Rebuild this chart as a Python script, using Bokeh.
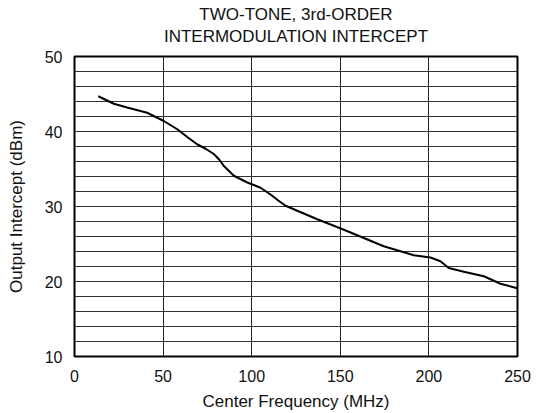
from bokeh.plotting import figure
from bokeh.models import Range1d, FixedTicker, Title
from bokeh.embed import file_html
from bokeh.resources import INLINE

freq_mhz = [13.4, 22.2, 29.7, 41.0, 50.4, 58.0, 64.0, 69.2, 74.0, 78.6, 81.5, 84.3, 89.9, 97.5, 105.0,
            110.6, 115.0, 119.1, 137.0, 151.0, 174.5, 191.5, 200.9, 206.5, 211.2, 219.7,
            231.0, 240.4, 249.8]
intercept_dbm = [44.7, 43.7, 43.2, 42.5, 41.4, 40.3, 39.2, 38.3, 37.7, 37.0, 36.3, 35.4, 34.1, 33.2, 32.5,
                 31.6, 30.8, 30.1, 28.3, 27.0, 24.7, 23.5, 23.2, 22.7, 21.8, 21.3,
                 20.7, 19.7, 19.1]
x_ticks = [0, 50, 100, 150, 200, 250]
y_ticks = [10, 20, 30, 40, 50]
y_grid = list(range(10, 52, 2))

FONT = "Liberation Sans"

p = figure(width=537, height=413, output_backend="svg", toolbar_location=None,
           x_range=Range1d(0, 250), y_range=Range1d(10, 50),
           min_border_left=74, min_border_right=20, min_border_top=56, min_border_bottom=57)

p.title.text = "TWO-TONE, 3rd-ORDER"
p.title.align = "center"
p.title.vertical_align = "bottom"
p.title.text_font = FONT
p.title.text_font_size = "17px"
p.title.text_font_style = "normal"
p.title.text_color = "#111111"
p.title.offset = 0
p.title.standoff = -11.5

t2 = Title(text="INTERMODULATION INTERCEPT", align="center", vertical_align="top",
           text_font=FONT, text_font_size="17px", text_font_style="normal",
           text_color="#111111", standoff=16.5)
p.add_layout(t2, "above")

p.outline_line_color = "black"
p.outline_line_width = 2
p.background_fill_color = "white"
p.border_fill_color = "white"

p.xaxis.ticker = FixedTicker(ticks=x_ticks)
p.yaxis.ticker = FixedTicker(ticks=y_ticks)
p.xgrid.ticker = FixedTicker(ticks=x_ticks)
p.ygrid.ticker = FixedTicker(ticks=y_grid)
p.xgrid.grid_line_color = "#222222"
p.ygrid.grid_line_color = "#333333"
p.xgrid.grid_line_width = 1
p.ygrid.grid_line_width = 1

for ax in (p.xaxis, p.yaxis):
    ax.axis_line_color = None
    ax.major_tick_line_color = None
    ax.minor_tick_line_color = None
    ax.major_tick_out = 0
    ax.major_label_text_font = FONT
    ax.major_label_text_font_size = "16px"
    ax.major_label_text_color = "#111111"
    ax.axis_label_text_font = FONT
    ax.axis_label_text_font_size = "17px"
    ax.axis_label_text_font_style = "normal"
    ax.axis_label_text_color = "#111111"

p.xaxis.axis_label = "Center Frequency (MHz)"
p.yaxis.axis_label = "Output Intercept (dBm)"
p.xaxis.major_label_standoff = 13
p.yaxis.major_label_standoff = 12
p.xaxis.axis_label_standoff = 7
p.yaxis.axis_label_standoff = 16

p.line(freq_mhz, intercept_dbm, line_color="black", line_width=2)

open("out.html", "w").write(file_html(p, INLINE))
